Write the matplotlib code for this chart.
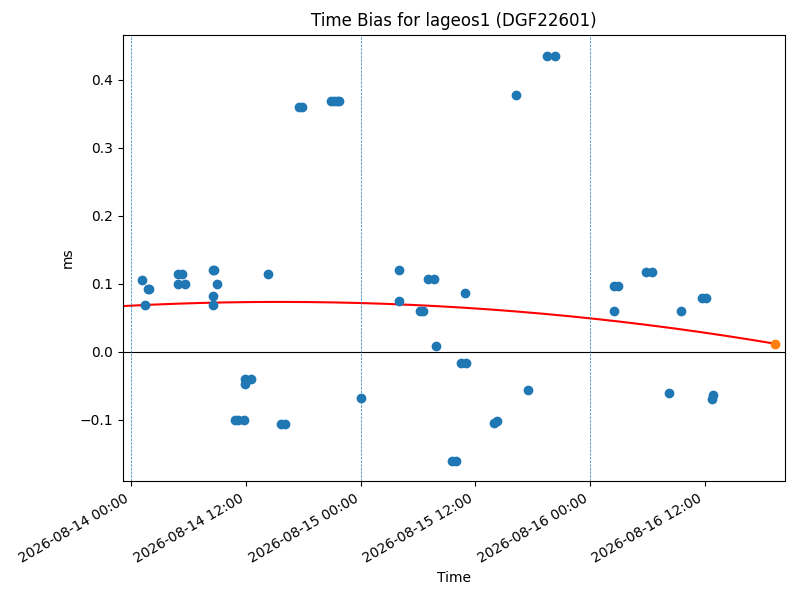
import numpy as np
import matplotlib
matplotlib.use("Agg")
import matplotlib.pyplot as plt
import matplotlib.dates as mdates
from datetime import datetime, timedelta

start = datetime(2026, 8, 14)
hours = [1.15,1.46,1.78,1.88,4.9,5.3,4.9,5.6,8.5,8.7,8.5,8.6,9.0,10.8,11.2,11.8,11.9,11.9,12.5,14.3,15.7,16.1,17.5,17.9,20.9,21.2,21.5,21.7,24.0,28.0,28.0,30.2,30.5,31.1,31.7,31.9,33.6,34.0,34.5,35.0,34.9,37.95,38.3,40.3,41.5,43.5,44.3,50.5,50.9,50.5,53.9,54.5,56.3,57.5,59.7,60.1,60.8,60.9]
values = [0.106,0.069,0.093,0.092,0.115,0.115,0.1,0.1,0.12,0.12,0.082,0.069,0.1,-0.1,-0.1,-0.1,-0.04,-0.047,-0.04,0.115,-0.106,-0.106,0.36,0.36,0.369,0.369,0.369,0.369,-0.068,0.121,0.075,0.06,0.06,0.107,0.107,0.009,-0.161,-0.161,-0.016,-0.016,0.087,-0.104,-0.101,0.378,-0.056,0.435,0.435,0.097,0.097,0.06,0.118,0.118,-0.061,0.06,0.079,0.079,-0.069,-0.064]
curve_hours = [0.0, 20.0, 67.4]
curve_values = [0.068, 0.073, 0.012]
pred_hour = 67.4
pred_value = 0.012

t = [start + timedelta(hours=h) for h in hours]
coef = np.polyfit(curve_hours, curve_values, 2)
ch = np.linspace(-0.85, pred_hour, 200)
ct = [start + timedelta(hours=h) for h in ch]

fig, ax = plt.subplots(figsize=(8, 6), dpi=100)
ax.scatter(t, values, color='tab:blue', zorder=3)
ax.plot(ct, np.polyval(coef, ch), color='red')
ax.scatter([start + timedelta(hours=pred_hour)], [pred_value], color='tab:orange', zorder=4)
ax.axhline(0, color='black', linewidth=0.8)
for d in range(3):
    ax.axvline(start + timedelta(days=d), color='tab:blue', linestyle='--', linewidth=0.5)
ax.set_xlim(start + timedelta(hours=-0.85), start + timedelta(hours=68.4))
ax.set_ylim(-0.19, 0.466)
ax.xaxis.set_major_locator(mdates.HourLocator(byhour=[0, 12]))
ax.xaxis.set_major_formatter(mdates.DateFormatter('%Y-%m-%d %H:%M'))
ax.set_title('Time Bias for lageos1 (DGF22601)')
ax.set_xlabel('Time')
ax.set_ylabel('ms')
fig.autofmt_xdate()
fig.subplots_adjust(left=0.154, right=0.981, top=0.942, bottom=0.198)
fig.savefig('out.png')
